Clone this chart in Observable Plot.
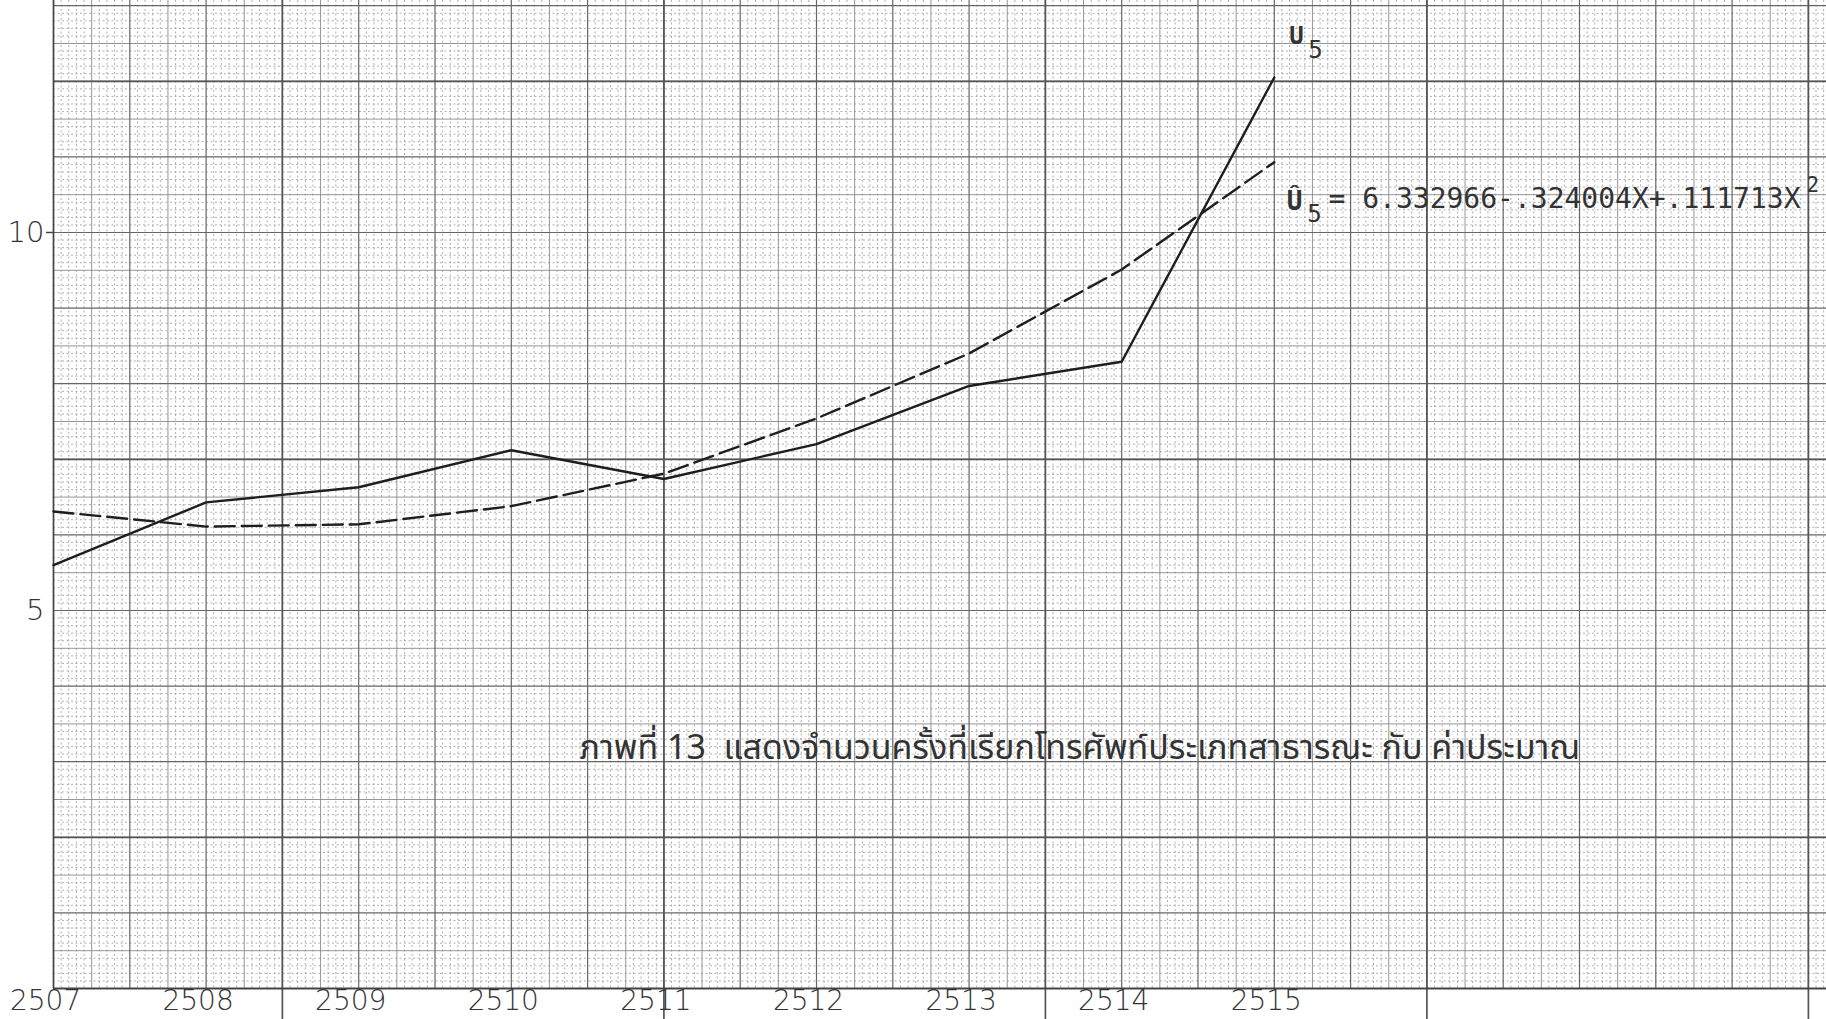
<!DOCTYPE html>
<html><head><meta charset="utf-8">
<script src="https://cdn.jsdelivr.net/npm/d3@7"></script>
<script src="https://cdn.jsdelivr.net/npm/@observablehq/plot@0.6"></script>
<style>
html,body{margin:0;padding:0;background:#fff;}
#chart svg{display:block;}
</style></head><body><div id="chart"></div>
<script>
// ---- data ----
const years = [2507, 2508, 2509, 2510, 2511, 2512, 2513, 2514, 2515];
const yearLabels = ["2507", "2508", "2509", "2510", "2511", "2512", "2513", "2514", "2515"];
const observedU5 = [5.60, 6.43, 6.63, 7.12, 6.74, 7.20, 7.97, 8.29, 12.05];
const estimatedU5 = [6.31, 6.11, 6.14, 6.38, 6.81, 7.54, 8.40, 9.51, 10.93];
const yTicks = [5, 10];
const yTickLabels = ["5", "10"];
const seriesName = "U";
const seriesSub = "5";
const equationText = "= 6.332966-.324004X+.111713X";
const equationSup = "2";
const captionText = "ภาพที่ 13  แสดงจำนวนครั้งที่เรียกโทรศัพท์ประเภทสาธารณะ กับ ค่าประมาณ";

// ---- graph paper (mm ruling) ----
const W = 1826, H = 1019;
const mL = 53, mB = 31;
const xMax = 2507 + (W - mL) / 152.6;
const yMax = (H - mB) / 75.6;
const vK = d3.range(0, Math.floor((xMax - 2507) / 0.05) + 1);
const hK = d3.range(0, Math.floor(yMax / 0.1) + 1);
const vx = k => 2507 + k * 0.05;
const hy = k => k * 0.1;
const heavyX = [2508.5, 2511, 2513.5, 2516, 2518.5];
const heavyY = [2, 7, 12];

const txt = {fontFamily: "'DejaVu Sans', sans-serif", fill: "#333", stroke: "none"};
const mono = {fontFamily: "'DejaVu Sans Mono', monospace", fill: "#333", stroke: "none"};
const px = p => 2507 + (p - mL) / 152.6;

const chart = Plot.plot({
  width: W, height: H,
  marginLeft: mL, marginRight: 0, marginTop: 0, marginBottom: mB,
  x: {domain: [2507, xMax], axis: null},
  y: {domain: [0, yMax], axis: null},
  style: {background: "#fff"},
  marks: [
    // minor dotted lines
    Plot.ruleX(vK.filter(k => k % 5 !== 0), {x: vx, stroke: "#9a9a9a", strokeWidth: 0.8, strokeDasharray: "2,2.5"}),
    Plot.ruleY(hK.filter(k => k % 5 !== 0), {y: hy, stroke: "#9a9a9a", strokeWidth: 0.8, strokeDasharray: "2,2.5"}),
    // 5 mm lines
    Plot.ruleX(vK.filter(k => k % 5 === 0 && k % 10 !== 0), {x: vx, stroke: "#8a8a8a", strokeWidth: 0.9}),
    Plot.ruleY(hK.filter(k => k % 5 === 0 && k % 10 !== 0), {y: hy, stroke: "#8a8a8a", strokeWidth: 0.9}),
    // 1 cm lines
    Plot.ruleX(vK.filter(k => k % 10 === 0), {x: vx, stroke: "#666", strokeWidth: 1.2}),
    Plot.ruleY(hK.filter(k => k % 10 === 0), {y: hy, stroke: "#666", strokeWidth: 1.2}),
    // 5 cm lines
    Plot.ruleX(heavyX, {y1: -0.45, y2: yMax, stroke: "#555", strokeWidth: 1.7, clip: false}),
    Plot.ruleY(heavyY, {stroke: "#555", strokeWidth: 1.8}),
    // axes lines
    Plot.ruleX([2507], {stroke: "#444", strokeWidth: 1.6}),
    Plot.ruleY([0], {stroke: "#444", strokeWidth: 2}),
    Plot.ruleY([10], {x1: 2507 - 7 / 152.6, x2: 2507, stroke: "#444", strokeWidth: 1.5, clip: false}),
    // data
    Plot.line(years, {x: d => d, y: (d, i) => estimatedU5[i], stroke: "#1e1e1e", strokeWidth: 2.4, strokeDasharray: "20,7"}),
    Plot.line(years, {x: d => d, y: (d, i) => observedU5[i], stroke: "#1e1e1e", strokeWidth: 2.4}),
    // axis labels
    Plot.text(years, {x: d => d, y: 0, text: (d, i) => yearLabels[i], dx: -8, dy: 13, lineAnchor: "middle", fontSize: 28, fontWeight: 300, ...txt}),
    Plot.text(yTicks, {x: 2507, y: d => d, text: (d, i) => yTickLabels[i], textAnchor: "end", dx: -9, fontSize: 29, fontWeight: 300, ...txt}),
    // annotations
    Plot.text([seriesName], {x: px(1296), y: 12.6, text: d => d, fontSize: 24, fontWeight: "bold", ...mono}),
    Plot.text([seriesSub], {x: px(1296), y: 12.6, text: d => d, dx: 19, dy: 14, fontSize: 24, ...mono}),
    Plot.text(["Û"], {x: px(1294), y: 10.44, text: d => d, dy: 2, fontSize: 26, fontWeight: "bold", ...mono}),
    Plot.text([seriesSub], {x: px(1294), y: 10.44, text: d => d, dx: 20, dy: 15, fontSize: 24, ...mono}),
    Plot.text([equationText], {x: px(1328), y: 10.44, text: d => d, textAnchor: "start", fontSize: 28, ...mono}),
    Plot.text([equationSup], {x: px(1806), y: 10.44, text: d => d, textAnchor: "start", dy: -14, fontSize: 21, ...mono}),
    Plot.text([captionText], {x: px(579), y: 3.18, text: d => d, textAnchor: "start", fontSize: 34, fontFamily: "'Noto Sans Thai', 'Loma', 'Garuda', 'Noto Sans', sans-serif", fill: "#333", stroke: "none"})
  ]
});
document.getElementById("chart").appendChild(chart);
</script>
</body></html>
